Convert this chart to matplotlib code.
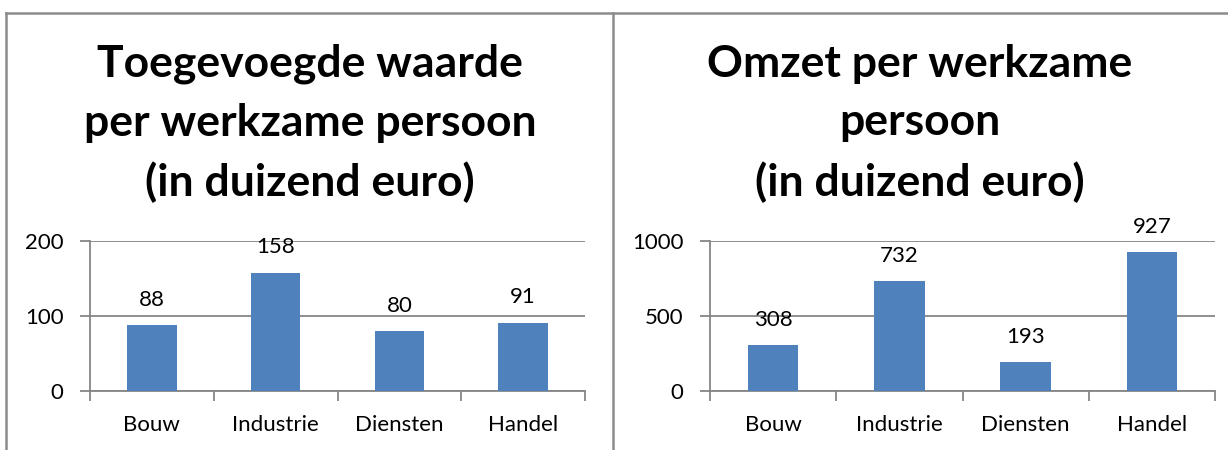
import matplotlib
matplotlib.use("Agg")
import matplotlib.pyplot as plt
from matplotlib.lines import Line2D

categories = ["Bouw", "Industrie", "Diensten", "Handel"]
toegevoegd = [88, 158, 80, 91]
omzet = [308, 732, 193, 927]
title_left = "Toegevoegde waarde\nper werkzame persoon\n(in duizend euro)"
title_right = "Omzet per werkzame\npersoon\n(in duizend euro)"
yticks_left = [0, 100, 200]
yticks_right = [0, 500, 1000]

W, H = 1228, 450
fig = plt.figure(figsize=(W / 100, H / 100), dpi=100)
plt.rcParams['font.family'] = ['Lato', 'DejaVu Sans']

BAR = "#4F81BD"
GRID = "#868686"
BORDER = "#8C8C8C"
FS = 16

def px_axes(x0, x1, ytop, ybot):
    return fig.add_axes([x0 / W, 1 - ybot / H, (x1 - x0) / W, (ybot - ytop) / H])

def panel(ax, values, yticks, title, cx):
    x = list(range(len(categories)))
    ax.bar(x, values, width=0.4, color=BAR, zorder=3)
    ax.set_xlim(-0.5, len(categories) - 0.5)
    ax.set_ylim(yticks[0], yticks[-1])
    ax.set_yticks(yticks)
    ax.set_yticklabels([str(t) for t in yticks], fontsize=FS)
    ax.yaxis.grid(True, color=GRID, linewidth=1.3, zorder=0)
    ax.set_xticks([i - 0.5 for i in range(len(categories) + 1)])
    ax.set_xticklabels([])
    ax.set_xticks(x, minor=True)
    ax.set_xticklabels(categories, minor=True, fontsize=FS)
    ax.tick_params(axis='x', which='minor', length=0, pad=17)
    ax.tick_params(axis='x', which='major', length=7, width=1.3, color=GRID, direction='out')
    ax.tick_params(axis='y', length=7, width=1.3, color=GRID, pad=12)
    for s in ['top', 'right']:
        ax.spines[s].set_visible(False)
    for s in ['left', 'bottom']:
        ax.spines[s].set_color(GRID)
        ax.spines[s].set_linewidth(1.3)
    for i, v in enumerate(values):
        ax.annotate(str(v), (i, v), xytext=(0, 11), textcoords='offset points',
                    ha='center', va='bottom', fontsize=FS)
    fig.text(cx / W, 1 - 44 / H, title, ha='center', va='top', fontsize=32,
             fontweight='bold', linespacing=1.55)

axL = px_axes(90, 585, 241, 391)
panel(axL, toegevoegd, yticks_left, title_left, 310)
axR = px_axes(710, 1215, 241, 391)
panel(axR, omzet, yticks_right, title_right, 920)

# panel borders
def fl(xs, ys):
    fig.add_artist(Line2D([x / W for x in xs], [1 - y / H for y in ys],
                          color=BORDER, linewidth=1.8, transform=fig.transFigure))
fl([6, 6], [13, 450])
fl([6, 1228], [13, 13])
fl([613, 613], [13, 450])

fig.savefig("out.png", dpi=100)
